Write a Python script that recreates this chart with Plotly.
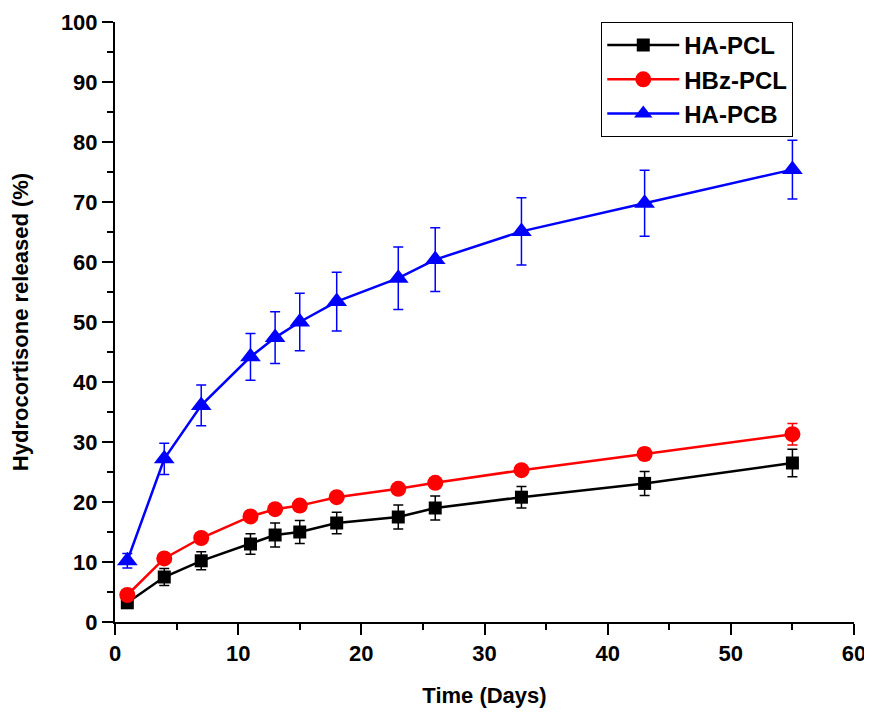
import plotly.graph_objects as go

# time points (days)
days = [1, 4, 7, 11, 13, 15, 18, 23, 26, 33, 43, 55]

ha_pcl = [3.2, 7.5, 10.2, 13.0, 14.5, 15.0, 16.5, 17.5, 19.0, 20.8, 23.1, 26.5]
ha_pcl_err = [0.8, 1.4, 1.5, 1.7, 2.0, 1.9, 1.8, 2.0, 2.0, 1.8, 2.0, 2.3]

hbz_pcl = [4.5, 10.6, 14.0, 17.6, 18.8, 19.4, 20.8, 22.2, 23.2, 25.3, 28.0, 31.3]
hbz_pcl_err = [0.4, 0.5, 0.6, 0.7, 0.7, 0.7, 0.7, 0.8, 0.8, 0.8, 1.0, 1.8]

ha_pcb = [10.2, 27.2, 36.1, 44.2, 47.4, 50.0, 53.4, 57.3, 60.4, 65.1, 69.8, 75.4]
ha_pcb_err = [1.2, 2.6, 3.4, 3.9, 4.3, 4.8, 4.9, 5.2, 5.3, 5.6, 5.5, 4.9]

font_family = "Liberation Sans, Arial, sans-serif"

fig = go.Figure()

series = [
    ("HA-PCL", ha_pcl, ha_pcl_err, "black", "square", 13),
    ("HBz-PCL", hbz_pcl, hbz_pcl_err, "red", "circle", 16),
    ("HA-PCB", ha_pcb, ha_pcb_err, "blue", "triangle-up", 18),
]

for name, vals, errs, color, symbol, size in series:
    fig.add_trace(go.Scatter(
        x=days,
        y=vals,
        name="<b>" + name + "</b>",
        mode="lines+markers",
        line=dict(color=color, width=2.5),
        marker=dict(symbol=symbol, size=size, color=color),
        error_y=dict(type="data", array=errs, visible=True,
                     color=color, thickness=1.5, width=5),
    ))

axis_common = dict(
    showline=True,
    linecolor="black",
    linewidth=2,
    ticks="outside",
    ticklen=11,
    tickwidth=2,
    tickcolor="black",
    showgrid=False,
    zeroline=False,
    tickfont=dict(family=font_family, size=22, color="black"),
    tickprefix="<b>", ticksuffix="</b>",
    automargin=False,
)
minor_ticks = dict(dtick=5, ticks="outside", ticklen=6, tickwidth=2, tickcolor="black")
title_font = dict(family=font_family, size=22, color="black")

fig.update_xaxes(
    range=[0, 60],
    dtick=10,
    minor=minor_ticks,
    title=dict(text="<b>Time (Days)</b>", font=title_font, standoff=22),
    **axis_common,
)
fig.update_yaxes(
    range=[0, 100],
    dtick=10,
    minor=minor_ticks,
    title=dict(text="<b>Hydrocortisone released (%)</b>", font=title_font, standoff=26),
    **axis_common,
)

# the page body adds 8px on top/left, margins account for that
fig.update_layout(
    width=872,
    height=719,
    plot_bgcolor="white",
    paper_bgcolor="white",
    margin=dict(l=107, r=26, t=14, b=105),
    font=dict(family=font_family, color="black"),
    legend=dict(
        x=0.658, y=1.0, xanchor="left", yanchor="top",
        bordercolor="black", borderwidth=1,
        bgcolor="white",
        font=dict(family=font_family, size=24, color="black"),
        itemwidth=72,
    ),
    showlegend=True,
)

fig.write_html("out.html")
